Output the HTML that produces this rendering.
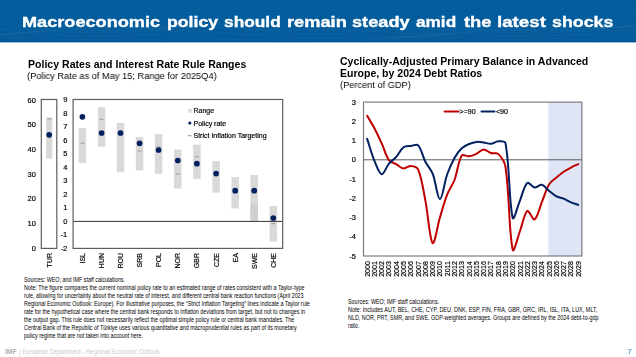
<!DOCTYPE html>
<html><head><meta charset="utf-8"><style>
html,body{margin:0;padding:0;}
body{width:636px;height:357px;overflow:hidden;position:relative;background:#fff;font-family:"Liberation Sans", sans-serif;}
.hdr{position:absolute;left:0;top:0;width:636px;height:43px;background:linear-gradient(to bottom,#035d9d 0px,#045b9b 41px,#014d8e 41px,#014d8e 42px,#9dbddd 42px,#9dbddd 43px);}
.title,.ct,.cs,.nl,.nr,.ftr{position:absolute;white-space:nowrap;transform-origin:0 0;}
.ct,.cs,.title{will-change:transform;}
.title{font-size:15.5px;font-weight:700;color:#fff;line-height:18px;-webkit-text-stroke:0.35px #fff;}
.ct{font-weight:700;font-size:10.5px;color:#000;line-height:12px;}
.cs{font-size:9.5px;color:#000;line-height:11px;}
.nl,.nr{font-size:7px;line-height:9px;color:#000;}
.nl{left:24.3px;}
.nr{left:347.5px;}
svg{position:absolute;left:0;top:0;will-change:transform;}
svg text{font-family:"Liberation Sans", sans-serif;stroke:#000;stroke-width:0.18px;}
.ftr{font-size:7px;color:#cbcbcb;line-height:9px;}
.pg{position:absolute;left:627.5px;top:346.9px;font-size:7.8px;font-weight:400;color:#4f93d3;-webkit-text-stroke:0.2px #4f93d3;line-height:10px;}
</style></head><body>
<div class="hdr"></div><svg width="636" height="41" style="position:absolute;left:0;top:0"><polyline points="0,24.00 8,24.66 16,25.27 24,25.78 32,26.15 40,26.37 48,26.44 56,26.36 64,26.16 72,25.90 80,25.61 88,25.33 96,25.13 104,25.01 112,25.01 120,25.13 128,25.34 136,25.62 144,25.92 152,26.20 160,26.41 168,26.51 176,26.47 184,26.27 192,25.91 200,25.42 208,24.82 216,24.16 224,23.50 232,22.88 240,22.36 248,21.97 256,21.73 264,21.64 272,21.70 280,21.88 288,22.13 296,22.41 304,22.68 312,22.88 320,22.99 328,22.99 336,22.88 344,22.66 352,22.38 360,22.07 368,21.77 376,21.54 384,21.42 392,21.44 400,21.62 408,21.96 416,22.44 424,23.02 432,23.67 440,24.34 448,24.96 456,25.50 464,25.91 472,26.17 480,26.28 488,26.24 496,26.08 504,25.84 512,25.57 520,25.31 528,25.11 536,25.00 544,25.00 552,25.11 560,25.33 568,25.62 576,25.94 584,26.25 592,26.50 600,26.64 608,26.64 616,26.48 624,26.17 632,25.71 640,25.13" fill="none" stroke="#ffffff" stroke-opacity="0.05" stroke-width="0.8"/><polyline points="0,29.93 8,30.24 16,30.38 24,30.35 32,30.17 40,29.86 48,29.47 56,29.03 64,28.62 72,28.26 80,27.99 88,27.84 96,27.81 104,27.88 112,28.03 120,28.23 128,28.42 136,28.55 144,28.60 152,28.52 160,28.30 168,27.93 176,27.45 184,26.86 192,26.24 200,25.61 208,25.04 216,24.57 224,24.24 232,24.07 240,24.07 248,24.23 256,24.52 264,24.90 272,25.31 280,25.72 288,26.08 296,26.35 304,26.50 312,26.53 320,26.46 328,26.31 336,26.11 344,25.91 352,25.76 360,25.70 368,25.77 376,25.98 384,26.33 392,26.81 400,27.38 408,28.02 416,28.65 424,29.24 432,29.72 440,30.08 448,30.27 456,30.29 464,30.16 472,29.89 480,29.54 488,29.13 496,28.73 504,28.38 512,28.11 520,27.96 528,27.92 536,27.99 544,28.15 552,28.35 560,28.56 568,28.72 576,28.79 584,28.74 592,28.55 600,28.21 608,27.74 616,27.17 624,26.54 632,25.89 640,25.30" fill="none" stroke="#ffffff" stroke-opacity="0.05" stroke-width="0.8"/><polyline points="0,33.63 8,33.33 16,32.89 24,32.37 32,31.81 40,31.26 48,30.77 56,30.38 64,30.11 72,29.98 80,29.97 88,30.06 96,30.20 104,30.37 112,30.50 120,30.56 128,30.52 136,30.35 144,30.06 152,29.65 160,29.16 168,28.63 176,28.10 184,27.64 192,27.27 200,27.06 208,27.01 216,27.13 224,27.41 232,27.82 240,28.33 248,28.88 256,29.42 264,29.91 272,30.30 280,30.58 288,30.72 296,30.74 304,30.66 312,30.51 320,30.35 328,30.21 336,30.14 344,30.18 352,30.34 360,30.63 368,31.04 376,31.53 384,32.07 392,32.61 400,33.09 408,33.48 416,33.72 424,33.80 432,33.71 440,33.45 448,33.06 456,32.57 464,32.03 472,31.49 480,31.00 488,30.61 496,30.33 504,30.18 512,30.15 520,30.23 528,30.37 536,30.53 544,30.67 552,30.75 560,30.72 568,30.57 576,30.28 584,29.88 592,29.39 600,28.84 608,28.29 616,27.79 624,27.38 632,27.11 640,27.00" fill="none" stroke="#ffffff" stroke-opacity="0.05" stroke-width="0.8"/><polyline points="0,34.71 8,34.06 16,33.43 24,32.88 32,32.43 40,32.12 48,31.95 56,31.93 64,32.02 72,32.20 80,32.41 88,32.62 96,32.77 104,32.83 112,32.78 120,32.62 128,32.35 136,31.99 144,31.60 152,31.21 160,30.87 168,30.64 176,30.54 184,30.60 192,30.83 200,31.22 208,31.74 216,32.34 224,32.98 232,33.61 240,34.18 248,34.64 256,34.96 264,35.14 272,35.18 280,35.10 288,34.94 296,34.73 304,34.53 312,34.38 320,34.32 328,34.36 336,34.53 344,34.80 352,35.16 360,35.56 368,35.97 376,36.32 384,36.58 392,36.70 400,36.66 408,36.46 416,36.09 424,35.60 432,35.00 440,34.37 448,33.74 456,33.17 464,32.70 472,32.36 480,32.17 488,32.11 496,32.18 504,32.33 512,32.53 520,32.73 528,32.87 536,32.94 544,32.89 552,32.73 560,32.45 568,32.09 576,31.68 584,31.26 592,30.89 600,30.61 608,30.46 616,30.48 624,30.66 632,31.00 640,31.48" fill="none" stroke="#ffffff" stroke-opacity="0.05" stroke-width="0.8"/><polyline points="0,34.92 8,34.49 16,34.20 24,34.09 32,34.12 40,34.29 48,34.56 56,34.89 64,35.22 72,35.51 80,35.72 88,35.82 96,35.81 104,35.69 112,35.49 120,35.23 128,34.97 136,34.75 144,34.62 152,34.61 160,34.75 168,35.04 176,35.48 184,36.04 192,36.67 200,37.34 208,37.98 216,38.54 224,38.99 232,39.30 240,39.44 248,39.43 256,39.27 264,39.02 272,38.71 280,38.39 288,38.11 296,37.90 304,37.79 312,37.80 320,37.92 328,38.13 336,38.39 344,38.67 352,38.90 360,39.05 368,39.08 376,38.96 384,38.69 392,38.26 400,37.72 408,37.09 416,36.43 424,35.78 432,35.20 440,34.73 448,34.41 456,34.24 464,34.23 472,34.36 480,34.60 488,34.90 496,35.21 504,35.49 512,35.69 520,35.80 528,35.79 536,35.66 544,35.45 552,35.18 560,34.90 568,34.65 576,34.49 584,34.44 592,34.53 600,34.79 608,35.19 616,35.73 624,36.35 632,37.01 640,37.66" fill="none" stroke="#ffffff" stroke-opacity="0.05" stroke-width="0.8"/><polyline points="0,36.70 8,36.84 16,37.14 24,37.53 32,38.00 40,38.47 48,38.91 56,39.27 64,39.52 72,39.65 80,39.66 88,39.57 96,39.42 104,39.24 112,39.08 120,38.99 128,39.01 136,39.15 144,39.44 152,39.85 160,40.37 168,40.96 176,41.57 184,42.15 192,42.65 200,43.02 208,43.24 216,43.28 224,43.16 232,42.90 240,42.52 248,42.07 256,41.61 264,41.18 272,40.82 280,40.56 288,40.43 296,40.41 304,40.50 312,40.66 320,40.84 328,41.00 336,41.10 344,41.10 352,40.96 360,40.69 368,40.29 376,39.77 384,39.18 392,38.56 400,37.97 408,37.46 416,37.06 424,36.82 432,36.74 440,36.84 448,37.08 456,37.44 464,37.87 472,38.32 480,38.75 488,39.11 496,39.36 504,39.50 512,39.52 520,39.43 528,39.28 536,39.09 544,38.92 552,38.81 560,38.80 568,38.92 576,39.18 584,39.58 592,40.09 600,40.68 608,41.30 616,41.90 624,42.44 632,42.85 640,43.12" fill="none" stroke="#ffffff" stroke-opacity="0.05" stroke-width="0.8"/><line x1="6" y1="22" x2="9" y2="41" stroke="#ffffff" stroke-opacity="0.03" stroke-width="0.8"/><line x1="22" y1="22" x2="25" y2="41" stroke="#ffffff" stroke-opacity="0.03" stroke-width="0.8"/><line x1="38" y1="22" x2="41" y2="41" stroke="#ffffff" stroke-opacity="0.03" stroke-width="0.8"/><line x1="54" y1="22" x2="57" y2="41" stroke="#ffffff" stroke-opacity="0.03" stroke-width="0.8"/><line x1="70" y1="22" x2="73" y2="41" stroke="#ffffff" stroke-opacity="0.03" stroke-width="0.8"/><line x1="86" y1="22" x2="89" y2="41" stroke="#ffffff" stroke-opacity="0.03" stroke-width="0.8"/><line x1="102" y1="22" x2="105" y2="41" stroke="#ffffff" stroke-opacity="0.03" stroke-width="0.8"/><line x1="118" y1="22" x2="121" y2="41" stroke="#ffffff" stroke-opacity="0.03" stroke-width="0.8"/><line x1="134" y1="22" x2="137" y2="41" stroke="#ffffff" stroke-opacity="0.03" stroke-width="0.8"/><line x1="150" y1="22" x2="153" y2="41" stroke="#ffffff" stroke-opacity="0.03" stroke-width="0.8"/><line x1="166" y1="22" x2="169" y2="41" stroke="#ffffff" stroke-opacity="0.03" stroke-width="0.8"/><line x1="182" y1="22" x2="185" y2="41" stroke="#ffffff" stroke-opacity="0.03" stroke-width="0.8"/><line x1="198" y1="22" x2="201" y2="41" stroke="#ffffff" stroke-opacity="0.03" stroke-width="0.8"/><line x1="214" y1="22" x2="217" y2="41" stroke="#ffffff" stroke-opacity="0.03" stroke-width="0.8"/><line x1="230" y1="22" x2="233" y2="41" stroke="#ffffff" stroke-opacity="0.03" stroke-width="0.8"/><line x1="246" y1="22" x2="249" y2="41" stroke="#ffffff" stroke-opacity="0.03" stroke-width="0.8"/><line x1="262" y1="22" x2="265" y2="41" stroke="#ffffff" stroke-opacity="0.03" stroke-width="0.8"/><line x1="278" y1="22" x2="281" y2="41" stroke="#ffffff" stroke-opacity="0.03" stroke-width="0.8"/><line x1="294" y1="22" x2="297" y2="41" stroke="#ffffff" stroke-opacity="0.03" stroke-width="0.8"/><line x1="310" y1="22" x2="313" y2="41" stroke="#ffffff" stroke-opacity="0.03" stroke-width="0.8"/><line x1="326" y1="22" x2="329" y2="41" stroke="#ffffff" stroke-opacity="0.03" stroke-width="0.8"/><line x1="342" y1="22" x2="345" y2="41" stroke="#ffffff" stroke-opacity="0.03" stroke-width="0.8"/><line x1="358" y1="22" x2="361" y2="41" stroke="#ffffff" stroke-opacity="0.03" stroke-width="0.8"/><line x1="374" y1="22" x2="377" y2="41" stroke="#ffffff" stroke-opacity="0.03" stroke-width="0.8"/><line x1="390" y1="22" x2="393" y2="41" stroke="#ffffff" stroke-opacity="0.03" stroke-width="0.8"/><line x1="406" y1="22" x2="409" y2="41" stroke="#ffffff" stroke-opacity="0.03" stroke-width="0.8"/><line x1="422" y1="22" x2="425" y2="41" stroke="#ffffff" stroke-opacity="0.03" stroke-width="0.8"/><line x1="438" y1="22" x2="441" y2="41" stroke="#ffffff" stroke-opacity="0.03" stroke-width="0.8"/><line x1="454" y1="22" x2="457" y2="41" stroke="#ffffff" stroke-opacity="0.03" stroke-width="0.8"/><line x1="470" y1="22" x2="473" y2="41" stroke="#ffffff" stroke-opacity="0.03" stroke-width="0.8"/><line x1="486" y1="22" x2="489" y2="41" stroke="#ffffff" stroke-opacity="0.03" stroke-width="0.8"/><line x1="502" y1="22" x2="505" y2="41" stroke="#ffffff" stroke-opacity="0.03" stroke-width="0.8"/><line x1="518" y1="22" x2="521" y2="41" stroke="#ffffff" stroke-opacity="0.03" stroke-width="0.8"/><line x1="534" y1="22" x2="537" y2="41" stroke="#ffffff" stroke-opacity="0.03" stroke-width="0.8"/><line x1="550" y1="22" x2="553" y2="41" stroke="#ffffff" stroke-opacity="0.03" stroke-width="0.8"/><line x1="566" y1="22" x2="569" y2="41" stroke="#ffffff" stroke-opacity="0.03" stroke-width="0.8"/><line x1="582" y1="22" x2="585" y2="41" stroke="#ffffff" stroke-opacity="0.03" stroke-width="0.8"/><line x1="598" y1="22" x2="601" y2="41" stroke="#ffffff" stroke-opacity="0.03" stroke-width="0.8"/><line x1="614" y1="22" x2="617" y2="41" stroke="#ffffff" stroke-opacity="0.03" stroke-width="0.8"/><line x1="630" y1="22" x2="633" y2="41" stroke="#ffffff" stroke-opacity="0.03" stroke-width="0.8"/></svg>
<div class="title" style="left:22.49px;top:13.4px;transform:scaleX(1.1696)">Macroeconomic</div><div class="title" style="left:166.73px;top:13.4px;transform:scaleX(1.1398)">policy</div><div class="title" style="left:223.99px;top:13.4px;transform:scaleX(1.1170)">should</div><div class="title" style="left:286.50px;top:13.4px;transform:scaleX(1.1766)">remain</div><div class="title" style="left:352.07px;top:13.4px;transform:scaleX(1.1731)">steady</div><div class="title" style="left:415.79px;top:13.4px;transform:scaleX(1.1095)">amid</div><div class="title" style="left:463.78px;top:13.4px;transform:scaleX(1.1844)">the</div><div class="title" style="left:497.10px;top:13.4px;transform:scaleX(1.2077)">latest</div><div class="title" style="left:552.47px;top:13.4px;transform:scaleX(1.1504)">shocks</div><div class="ct" id="lt" style="left:27.70px;top:57.50px;transform:scaleX(1.0057);">Policy Rates and Interest Rate Rule Ranges</div><div class="cs" id="ls" style="left:27.20px;top:69.60px;transform:scaleX(0.9731);">(Policy Rate as of May 15; Range for 2025Q4)</div><div class="ct" id="rt1" style="left:340.00px;top:54.90px;transform:scaleX(1.0051);">Cyclically-Adjusted Primary Balance in Advanced</div><div class="ct" id="rt2" style="left:340.00px;top:67.30px;transform:scaleX(1.0028);">Europe, by 2024 Debt Ratios</div><div class="cs" id="rs" style="left:339.50px;top:79.40px;transform:scaleX(0.9717);">(Percent of GDP)</div><div class="ftr" id="ftr0" style="left:5.00px;top:346.50px;transform:scaleX(0.9617);color:#b0b0b0;"><b>IMF</b></div><div class="ftr" id="ftr" style="left:19.20px;top:346.50px;transform:scaleX(0.8503);">| European Department - Regional Economic Outlook</div>
<div class="nl" id="nl0" style="top:275.00px;transform:scaleX(0.7681);">Sources: WEO; and IMF staff calculations.</div><div class="nl" id="nl1" style="top:282.95px;transform:scaleX(0.7721);">Note: The figure compares the current nominal policy rate to an estimated range of rates consistent with a Taylor-type</div><div class="nl" id="nl2" style="top:290.90px;transform:scaleX(0.7688);">rule, allowing for uncertainty about the neutral rate of interest, and different central bank reaction functions (April 2023</div><div class="nl" id="nl3" style="top:298.85px;transform:scaleX(0.7748);">Regional Economic Outlook: Europe). For illustrative purposes, the “Strict Inflation Targeting” lines indicate a Taylor rule</div><div class="nl" id="nl4" style="top:306.80px;transform:scaleX(0.7693);">rate for the hypothetical case where the central bank responds to inflation deviations from target, but not to changes in</div><div class="nl" id="nl5" style="top:314.75px;transform:scaleX(0.7707);">the output gap. This rule does not necessarily reflect the optimal simple policy rule or central bank mandates. The</div><div class="nl" id="nl6" style="top:322.70px;transform:scaleX(0.7690);">Central Bank of the Republic of Türkiye uses various quantitative and macroprudential rules as part of its monetary</div><div class="nl" id="nl7" style="top:330.65px;transform:scaleX(0.7664);">policy regime that are not taken into account here.</div>
<div class="nr" id="nr0" style="top:297.10px;transform:scaleX(0.7737);">Sources: WEO; IMF staff calculations.</div><div class="nr" id="nr1" style="top:305.00px;transform:scaleX(0.7838);">Note: Includes AUT, BEL, CHE, CYP, DEU, DNK, ESP, FIN, FRA, GBR, GRC, IRL, ISL, ITA, LUX, MLT,</div><div class="nr" id="nr2" style="top:312.90px;transform:scaleX(0.7741);">NLD, NOR, PRT, SMR, and SWE. GDP-weighted averages. Groups are defined by the 2024 debt-to-gdp</div><div class="nr" id="nr3" style="top:320.80px;transform:scaleX(0.7325);">ratio.</div>
<svg width="636" height="357" viewBox="0 0 636 357">
<rect x="41.3" y="99.5" width="15.5" height="148.9" fill="none" stroke="#5e5e5e" stroke-width="1.2"/><rect x="46.1" y="117.6" width="6.2" height="41" fill="#d9d9d9"/><rect x="47.3" y="118.4" width="4" height="1" fill="#999999"/><circle cx="49.2" cy="134.8" r="2.85" fill="#002060"/><rect x="78.65" y="128.00" width="7.50" height="35.00" fill="#d9d9d9"/><rect x="97.85" y="107.20" width="7.50" height="39.50" fill="#d9d9d9"/><rect x="116.75" y="123.00" width="7.50" height="49.20" fill="#d9d9d9"/><rect x="135.85" y="137.10" width="7.50" height="33.30" fill="#d9d9d9"/><rect x="154.85" y="134.10" width="7.50" height="39.70" fill="#d9d9d9"/><rect x="174.05" y="149.60" width="7.50" height="38.90" fill="#d9d9d9"/><rect x="193.15" y="144.70" width="7.50" height="34.20" fill="#d9d9d9"/><rect x="212.35" y="161.10" width="7.50" height="31.50" fill="#d9d9d9"/><rect x="231.45" y="177.10" width="7.50" height="31.40" fill="#d9d9d9"/><rect x="250.45" y="175.00" width="7.50" height="45.80" fill="#d9d9d9"/><rect x="269.55" y="206.00" width="7.50" height="35.60" fill="#d9d9d9"/><rect x="250.45" y="203.6" width="7.5" height="17.2" fill="#d0d0d0"/><rect x="80.40" y="142.70" width="4" height="1" fill="#999999"/><rect x="99.60" y="118.80" width="4" height="1" fill="#999999"/><rect x="118.50" y="133.50" width="4" height="1" fill="#999999"/><rect x="137.60" y="150.50" width="4" height="1" fill="#999999"/><rect x="156.60" y="146.50" width="4" height="1" fill="#999999"/><rect x="175.80" y="173.50" width="4" height="1" fill="#999999"/><rect x="194.90" y="156.10" width="4" height="1" fill="#999999"/><rect x="214.10" y="173.10" width="4" height="1" fill="#999999"/><rect x="233.20" y="190.20" width="4" height="1" fill="#999999"/><rect x="252.20" y="190.20" width="4" height="1" fill="#999999"/><rect x="271.30" y="223.20" width="4" height="1" fill="#999999"/><line x1="73" y1="221.4" x2="283" y2="221.4" stroke="#333333" stroke-width="1"/><circle cx="82.40" cy="116.80" r="2.85" fill="#002060"/><circle cx="101.60" cy="133.00" r="2.85" fill="#002060"/><circle cx="120.50" cy="133.00" r="2.85" fill="#002060"/><circle cx="139.60" cy="143.30" r="2.85" fill="#002060"/><circle cx="158.60" cy="150.00" r="2.85" fill="#002060"/><circle cx="177.80" cy="160.50" r="2.85" fill="#002060"/><circle cx="196.90" cy="163.70" r="2.85" fill="#002060"/><circle cx="216.10" cy="173.60" r="2.85" fill="#002060"/><circle cx="235.20" cy="190.70" r="2.85" fill="#002060"/><circle cx="254.20" cy="190.70" r="2.85" fill="#002060"/><circle cx="273.30" cy="218.00" r="2.85" fill="#002060"/><rect x="73.1" y="99.5" width="209.6" height="148.9" fill="none" stroke="#5e5e5e" stroke-width="1.2"/><rect x="188.4" y="108.9" width="3.2" height="3.8" fill="#d9d9d9"/><ellipse cx="189.8" cy="123" rx="1.6" ry="1.6" fill="#002060"/><rect x="188" y="135.3" width="3.4" height="0.9" fill="#7f7f7f"/>
<rect x="548.40" y="102.10" width="33.50" height="153.90" fill="#dfe5f5"/><line x1="363.50" y1="159.81" x2="581.90" y2="159.81" stroke="#595959" stroke-width="1"/><path d="M367.14,115.76 C369.57,119.93 372.18,124.00 374.42,128.26 C377.03,133.23 379.37,138.35 381.70,143.46 C384.22,149.00 385.65,155.44 388.98,160.20 C390.50,162.37 393.85,162.87 396.26,164.24 C398.70,165.62 401.00,168.17 403.54,168.47 C405.86,168.74 408.45,165.81 410.82,165.97 C413.30,166.13 417.12,167.11 418.10,169.43 C421.98,178.65 423.31,190.14 425.38,200.60 C428.17,214.69 429.66,239.62 432.66,243.11 C434.51,245.26 437.40,226.02 439.94,217.53 C442.25,209.80 444.31,201.94 447.22,194.44 C449.16,189.43 452.62,185.04 454.50,180.01 C457.47,172.08 458.01,161.71 461.78,155.58 C462.86,153.82 466.69,156.63 469.06,156.35 C471.55,156.05 474.04,154.94 476.34,153.85 C478.89,152.64 481.14,149.56 483.62,149.42 C485.99,149.30 488.34,152.30 490.90,153.08 C493.20,153.78 496.59,152.33 498.18,153.85 C501.44,156.95 504.72,162.05 505.46,166.93 C509.57,194.05 508.83,232.66 512.74,249.84 C513.69,254.02 517.66,237.30 520.02,230.99 C522.51,224.35 524.12,213.51 527.30,210.98 C528.97,209.66 532.77,220.55 534.58,219.45 C537.62,217.60 539.47,207.92 541.86,202.13 C544.32,196.19 545.93,189.67 549.14,184.24 C550.79,181.46 553.91,179.66 556.42,177.51 C558.77,175.49 561.15,173.49 563.70,171.74 C566.01,170.15 568.50,168.82 570.98,167.51 C573.35,166.25 575.83,165.20 578.26,164.04" fill="none" stroke="#c00000" stroke-width="2" stroke-linecap="round"/><path d="M367.14,138.84 C369.57,146.15 371.50,153.68 374.42,160.77 C376.35,165.48 379.06,173.72 381.70,174.24 C383.91,174.68 386.24,166.92 388.98,163.66 C391.09,161.15 394.07,159.39 396.26,156.93 C398.92,153.94 400.53,149.57 403.54,147.31 C405.39,145.92 408.38,146.28 410.82,145.96 C413.23,145.64 416.69,143.86 418.10,145.38 C421.55,149.12 422.65,156.44 425.38,161.74 C427.51,165.87 430.99,169.36 432.66,173.66 C435.84,181.86 437.49,199.15 439.94,199.25 C442.34,199.34 444.34,182.41 447.22,174.24 C449.20,168.63 451.60,163.06 454.50,157.89 C456.45,154.40 458.92,150.99 461.78,148.27 C463.78,146.37 466.51,145.15 469.06,144.04 C471.36,143.04 473.87,142.18 476.34,141.92 C478.72,141.67 481.21,142.18 483.62,142.50 C486.06,142.82 488.52,144.03 490.90,143.85 C493.37,143.65 495.72,141.47 498.18,141.34 C500.57,141.22 505.02,140.77 505.46,143.08 C509.87,166.29 508.86,202.65 512.74,217.91 C513.72,221.76 517.59,206.24 520.02,200.40 C522.45,194.57 523.96,185.85 527.30,182.90 C528.82,181.55 532.03,187.18 534.58,187.51 C536.88,187.82 539.68,184.30 541.86,184.82 C544.54,185.46 546.65,189.00 549.14,190.98 C551.50,192.85 553.79,194.97 556.42,196.36 C558.64,197.54 561.35,197.71 563.70,198.67 C566.20,199.70 568.48,201.27 570.98,202.33 C573.34,203.32 575.83,203.99 578.26,204.83" fill="none" stroke="#002060" stroke-width="2" stroke-linecap="round"/><rect x="363.50" y="102.10" width="218.40" height="153.90" fill="none" stroke="#777777" stroke-width="1.15"/><line x1="444.6" y1="111.5" x2="458.6" y2="111.5" stroke="#c00000" stroke-width="2" stroke-linecap="round"/><line x1="481.5" y1="111.5" x2="494.5" y2="111.5" stroke="#002060" stroke-width="2" stroke-linecap="round"/>
<text x="35.90" y="102.70" font-size="7.5" fill="#000" font-weight="400" text-anchor="end" >60</text><text x="35.90" y="127.38" font-size="7.5" fill="#000" font-weight="400" text-anchor="end" >50</text><text x="35.90" y="152.06" font-size="7.5" fill="#000" font-weight="400" text-anchor="end" >40</text><text x="35.90" y="176.74" font-size="7.5" fill="#000" font-weight="400" text-anchor="end" >30</text><text x="35.90" y="201.42" font-size="7.5" fill="#000" font-weight="400" text-anchor="end" >20</text><text x="35.90" y="226.10" font-size="7.5" fill="#000" font-weight="400" text-anchor="end" >10</text><text x="35.90" y="250.78" font-size="7.5" fill="#000" font-weight="400" text-anchor="end" >0</text><text x="67.30" y="102.30" font-size="7.5" fill="#000" font-weight="400" text-anchor="end" >9</text><text x="67.30" y="115.80" font-size="7.5" fill="#000" font-weight="400" text-anchor="end" >8</text><text x="67.30" y="129.30" font-size="7.5" fill="#000" font-weight="400" text-anchor="end" >7</text><text x="67.30" y="142.80" font-size="7.5" fill="#000" font-weight="400" text-anchor="end" >6</text><text x="67.30" y="156.30" font-size="7.5" fill="#000" font-weight="400" text-anchor="end" >5</text><text x="67.30" y="169.80" font-size="7.5" fill="#000" font-weight="400" text-anchor="end" >4</text><text x="67.30" y="183.30" font-size="7.5" fill="#000" font-weight="400" text-anchor="end" >3</text><text x="67.30" y="196.80" font-size="7.5" fill="#000" font-weight="400" text-anchor="end" >2</text><text x="67.30" y="210.30" font-size="7.5" fill="#000" font-weight="400" text-anchor="end" >1</text><text x="67.30" y="223.80" font-size="7.5" fill="#000" font-weight="400" text-anchor="end" >0</text><text x="67.30" y="237.30" font-size="7.5" fill="#000" font-weight="400" text-anchor="end" >-1</text><text x="67.30" y="250.80" font-size="7.5" fill="#000" font-weight="400" text-anchor="end" >-2</text><text x="193.50" y="113.20" font-size="7" fill="#000" font-weight="400" text-anchor="start" >Range</text><text x="193.50" y="125.50" font-size="7" fill="#000" font-weight="400" text-anchor="start" >Policy rate</text><text x="193.50" y="138.20" font-size="7" fill="#000" font-weight="400" text-anchor="start" >Strict Inflation Targeting</text><text transform="translate(51.80,253.00) rotate(-90)" font-size="7" text-anchor="end">TUR</text><text transform="translate(84.90,253.00) rotate(-90)" font-size="7" text-anchor="end">ISL</text><text transform="translate(104.10,253.00) rotate(-90)" font-size="7" text-anchor="end">HUN</text><text transform="translate(123.00,253.00) rotate(-90)" font-size="7" text-anchor="end">ROU</text><text transform="translate(142.10,253.00) rotate(-90)" font-size="7" text-anchor="end">SRB</text><text transform="translate(161.10,253.00) rotate(-90)" font-size="7" text-anchor="end">POL</text><text transform="translate(180.30,253.00) rotate(-90)" font-size="7" text-anchor="end">NOR</text><text transform="translate(199.40,253.00) rotate(-90)" font-size="7" text-anchor="end">GBR</text><text transform="translate(218.60,253.00) rotate(-90)" font-size="7" text-anchor="end">CZE</text><text transform="translate(237.70,253.00) rotate(-90)" font-size="7" text-anchor="end">EA</text><text transform="translate(256.70,253.00) rotate(-90)" font-size="7" text-anchor="end">SWE</text><text transform="translate(275.80,253.00) rotate(-90)" font-size="7" text-anchor="end">CHE</text><text x="459.60" y="113.80" font-size="7" fill="#000" font-weight="400" text-anchor="start" >&gt;=90</text><text x="496.00" y="113.80" font-size="7" fill="#000" font-weight="400" text-anchor="start" >&lt;90</text><text x="355.90" y="104.60" font-size="7.5" fill="#000" font-weight="400" text-anchor="end" >3</text><text x="355.90" y="123.84" font-size="7.5" fill="#000" font-weight="400" text-anchor="end" >2</text><text x="355.90" y="143.07" font-size="7.5" fill="#000" font-weight="400" text-anchor="end" >1</text><text x="355.90" y="162.31" font-size="7.5" fill="#000" font-weight="400" text-anchor="end" >0</text><text x="355.90" y="181.55" font-size="7.5" fill="#000" font-weight="400" text-anchor="end" >-1</text><text x="355.90" y="200.79" font-size="7.5" fill="#000" font-weight="400" text-anchor="end" >-2</text><text x="355.90" y="220.03" font-size="7.5" fill="#000" font-weight="400" text-anchor="end" >-3</text><text x="355.90" y="239.26" font-size="7.5" fill="#000" font-weight="400" text-anchor="end" >-4</text><text x="355.90" y="258.50" font-size="7.5" fill="#000" font-weight="400" text-anchor="end" >-5</text><text transform="translate(369.64,261.20) rotate(-90)" font-size="7" text-anchor="end">2000</text><text transform="translate(376.92,261.20) rotate(-90)" font-size="7" text-anchor="end">2001</text><text transform="translate(384.20,261.20) rotate(-90)" font-size="7" text-anchor="end">2002</text><text transform="translate(391.48,261.20) rotate(-90)" font-size="7" text-anchor="end">2003</text><text transform="translate(398.76,261.20) rotate(-90)" font-size="7" text-anchor="end">2004</text><text transform="translate(406.04,261.20) rotate(-90)" font-size="7" text-anchor="end">2005</text><text transform="translate(413.32,261.20) rotate(-90)" font-size="7" text-anchor="end">2006</text><text transform="translate(420.60,261.20) rotate(-90)" font-size="7" text-anchor="end">2007</text><text transform="translate(427.88,261.20) rotate(-90)" font-size="7" text-anchor="end">2008</text><text transform="translate(435.16,261.20) rotate(-90)" font-size="7" text-anchor="end">2009</text><text transform="translate(442.44,261.20) rotate(-90)" font-size="7" text-anchor="end">2010</text><text transform="translate(449.72,261.20) rotate(-90)" font-size="7" text-anchor="end">2011</text><text transform="translate(457.00,261.20) rotate(-90)" font-size="7" text-anchor="end">2012</text><text transform="translate(464.28,261.20) rotate(-90)" font-size="7" text-anchor="end">2013</text><text transform="translate(471.56,261.20) rotate(-90)" font-size="7" text-anchor="end">2014</text><text transform="translate(478.84,261.20) rotate(-90)" font-size="7" text-anchor="end">2015</text><text transform="translate(486.12,261.20) rotate(-90)" font-size="7" text-anchor="end">2016</text><text transform="translate(493.40,261.20) rotate(-90)" font-size="7" text-anchor="end">2017</text><text transform="translate(500.68,261.20) rotate(-90)" font-size="7" text-anchor="end">2018</text><text transform="translate(507.96,261.20) rotate(-90)" font-size="7" text-anchor="end">2019</text><text transform="translate(515.24,261.20) rotate(-90)" font-size="7" text-anchor="end">2020</text><text transform="translate(522.52,261.20) rotate(-90)" font-size="7" text-anchor="end">2021</text><text transform="translate(529.80,261.20) rotate(-90)" font-size="7" text-anchor="end">2022</text><text transform="translate(537.08,261.20) rotate(-90)" font-size="7" text-anchor="end">2023</text><text transform="translate(544.36,261.20) rotate(-90)" font-size="7" text-anchor="end">2024</text><text transform="translate(551.64,261.20) rotate(-90)" font-size="7" text-anchor="end">2025</text><text transform="translate(558.92,261.20) rotate(-90)" font-size="7" text-anchor="end">2026</text><text transform="translate(566.20,261.20) rotate(-90)" font-size="7" text-anchor="end">2027</text><text transform="translate(573.48,261.20) rotate(-90)" font-size="7" text-anchor="end">2028</text><text transform="translate(580.76,261.20) rotate(-90)" font-size="7" text-anchor="end">2029</text>
</svg>
<div class="pg">7</div>
</body></html>
